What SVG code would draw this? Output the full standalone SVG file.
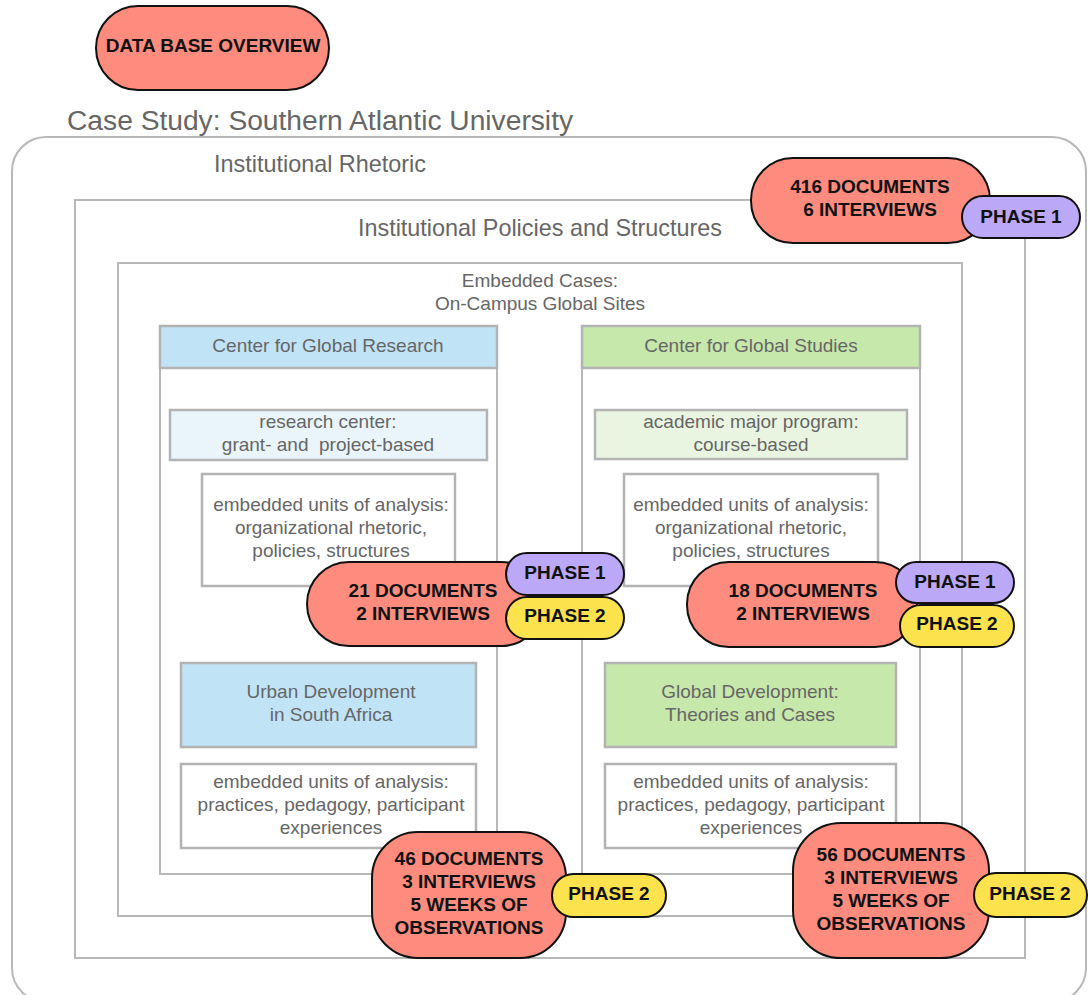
<svg xmlns="http://www.w3.org/2000/svg" width="1088" height="995" viewBox="0 0 1088 995">
  <style>
    .frame { fill: #ffffff; stroke: #b8b8b8; stroke-width: 2; }
    .box { stroke: #b3b3b3; stroke-width: 2.5; }
    .lbl { font-family: "Liberation Sans", Arial, sans-serif; fill: #666666; text-anchor: middle; }
    .big { font-size: 28.2px; }
    .mid { font-size: 23.4px; }
    .sm { font-size: 19px; }
    .pill { stroke: #111111; stroke-width: 2; }
    .bold { font-family: "Liberation Sans", Arial, sans-serif; font-weight: bold; font-size: 19px; fill: #111111; text-anchor: middle; }
    .red { fill: #fd8c7e; }
    .purple { fill: #bba8f6; }
    .yellow { fill: #fce24c; }
    .blue { fill: #c1e3f6; }
    .green { fill: #c7e8ab; }
    .lblue { fill: #eaf5fb; }
    .lgreen { fill: #eaf5e1; }
    .white { fill: #ffffff; }
  </style>

  <rect width="1088" height="995" fill="#ffffff"/>

  <!-- title badge -->
  <g id="overview">
    <rect class="pill red" x="96" y="6" width="233" height="84" rx="42"/>
    <text class="bold" x="213" y="52">DATA BASE OVERVIEW</text>
  </g>

  <text class="lbl big" x="67" y="130" style="text-anchor:start">Case Study: Southern Atlantic University</text>

  <!-- nested frames -->
  <g id="rhetoric">
    <rect class="frame" x="12" y="137" width="1074" height="865" rx="34"/>
    <text class="lbl mid" x="320" y="172">Institutional Rhetoric</text>
  </g>
  <g id="policies">
    <rect class="frame" x="75" y="200" width="950" height="758"/>
    <text class="lbl mid" x="540" y="236">Institutional Policies and Structures</text>
  </g>
  <g id="embedded">
    <rect class="frame" x="118" y="263" width="844" height="653"/>
    <text class="lbl sm" x="540" y="287">Embedded Cases:</text>
    <text class="lbl sm" x="540" y="310">On-Campus Global Sites</text>
  </g>

  <!-- left site -->
  <g id="cgr">
    <rect class="frame" x="160" y="326" width="337" height="548"/>
    <rect class="box blue" x="160" y="326" width="337" height="42"/>
    <text class="lbl sm" x="328" y="352">Center for Global Research</text>
  </g>
  <g id="research-center">
    <rect class="box lblue" x="170" y="410" width="317" height="50"/>
    <text class="lbl sm" x="328" y="428">research center:</text>
    <text class="lbl sm" x="328" y="451">grant- and&#160; project-based</text>
  </g>
  <g id="units-left-top">
    <rect class="box white" x="202" y="474" width="253" height="112"/>
    <text class="lbl sm" x="331" y="511">embedded units of analysis:</text>
    <text class="lbl sm" x="331" y="534">organizational rhetoric,</text>
    <text class="lbl sm" x="331" y="557">policies, structures</text>
  </g>
  <g id="urban">
    <rect class="box blue" x="181" y="663" width="295" height="84"/>
    <text class="lbl sm" x="331" y="698">Urban Development</text>
    <text class="lbl sm" x="331" y="721">in South Africa</text>
  </g>
  <g id="units-left-bottom">
    <rect class="box white" x="181" y="764" width="295" height="84"/>
    <text class="lbl sm" x="331" y="788">embedded units of analysis:</text>
    <text class="lbl sm" x="331" y="811">practices, pedagogy, participant</text>
    <text class="lbl sm" x="331" y="834">experiences</text>
  </g>

  <!-- right site -->
  <g id="cgs">
    <rect class="frame" x="582" y="326" width="338" height="548"/>
    <rect class="box green" x="582" y="326" width="338" height="42"/>
    <text class="lbl sm" x="751" y="352">Center for Global Studies</text>
  </g>
  <g id="major">
    <rect class="box lgreen" x="595" y="410" width="312" height="49"/>
    <text class="lbl sm" x="751" y="428">academic major program:</text>
    <text class="lbl sm" x="751" y="451">course-based</text>
  </g>
  <g id="units-right-top">
    <rect class="box white" x="624" y="474" width="254" height="112"/>
    <text class="lbl sm" x="751" y="511">embedded units of analysis:</text>
    <text class="lbl sm" x="751" y="534">organizational rhetoric,</text>
    <text class="lbl sm" x="751" y="557">policies, structures</text>
  </g>
  <g id="global-dev">
    <rect class="box green" x="605" y="663" width="291" height="84"/>
    <text class="lbl sm" x="750" y="698">Global Development:</text>
    <text class="lbl sm" x="750" y="721">Theories and Cases</text>
  </g>
  <g id="units-right-bottom">
    <rect class="box white" x="605" y="764" width="291" height="84"/>
    <text class="lbl sm" x="751" y="788">embedded units of analysis:</text>
    <text class="lbl sm" x="751" y="811">practices, pedagogy, participant</text>
    <text class="lbl sm" x="751" y="834">experiences</text>
  </g>

  <g id="connectors"></g>

  <!-- data counts -->
  <g id="count-institution">
    <rect class="pill red" x="751" y="158" width="239" height="85" rx="42"/>
    <text class="bold" x="870" y="193">416 DOCUMENTS</text>
    <text class="bold" x="870" y="216">6 INTERVIEWS</text>
    <rect class="pill purple" x="962" y="196" width="118" height="42" rx="21"/>
    <text class="bold" x="1021" y="223">PHASE 1</text>
  </g>

  <g id="count-cgr">
    <rect class="pill red" x="307" y="562" width="236" height="84" rx="42"/>
    <text class="bold" x="423" y="597">21 DOCUMENTS</text>
    <text class="bold" x="423" y="620">2 INTERVIEWS</text>
    <rect class="pill purple" x="506" y="553" width="118" height="42" rx="21"/>
    <text class="bold" x="565" y="579">PHASE 1</text>
    <rect class="pill yellow" x="506" y="597" width="118" height="42" rx="21"/>
    <text class="bold" x="565" y="622">PHASE 2</text>
  </g>

  <g id="count-cgs">
    <rect class="pill red" x="687" y="562" width="230" height="85" rx="42"/>
    <text class="bold" x="803" y="597">18 DOCUMENTS</text>
    <text class="bold" x="803" y="620">2 INTERVIEWS</text>
    <rect class="pill purple" x="896" y="562" width="118" height="41" rx="20.5"/>
    <text class="bold" x="955" y="588">PHASE 1</text>
    <rect class="pill yellow" x="900" y="605" width="114" height="42" rx="21"/>
    <text class="bold" x="957" y="630">PHASE 2</text>
  </g>

  <g id="count-urban">
    <rect class="pill red" x="372" y="832" width="194" height="126" rx="46"/>
    <text class="bold" x="469" y="865">46 DOCUMENTS</text>
    <text class="bold" x="469" y="888">3 INTERVIEWS</text>
    <text class="bold" x="469" y="911">5 WEEKS OF</text>
    <text class="bold" x="469" y="934">OBSERVATIONS</text>
    <rect class="pill yellow" x="552" y="874" width="114" height="43" rx="21.5"/>
    <text class="bold" x="609" y="900">PHASE 2</text>
  </g>

  <g id="count-globaldev">
    <rect class="pill red" x="793" y="823" width="196" height="135" rx="48"/>
    <text class="bold" x="891" y="861">56 DOCUMENTS</text>
    <text class="bold" x="891" y="884">3 INTERVIEWS</text>
    <text class="bold" x="891" y="907">5 WEEKS OF</text>
    <text class="bold" x="891" y="930">OBSERVATIONS</text>
    <rect class="pill yellow" x="974" y="873" width="113" height="44" rx="22"/>
    <text class="bold" x="1030" y="900">PHASE 2</text>
  </g>
</svg>
